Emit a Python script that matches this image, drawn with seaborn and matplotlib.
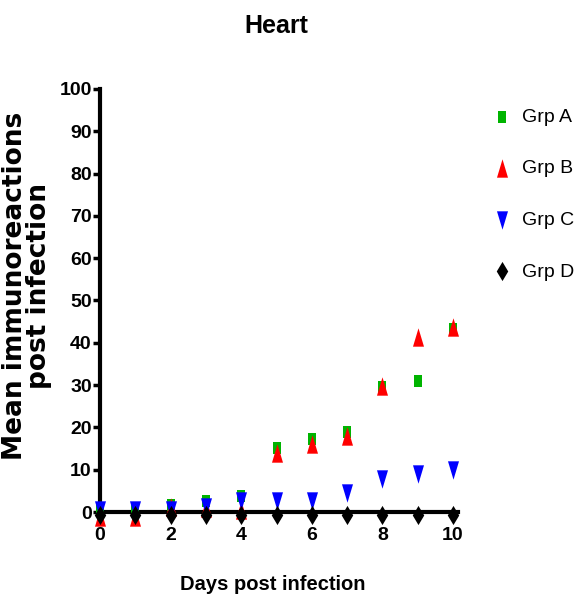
import numpy as np
import pandas as pd
import matplotlib
matplotlib.use('Agg')
import matplotlib.pyplot as plt
import seaborn as sns

# Values
days = [0, 1, 2, 3, 4, 5, 6, 7, 8, 9, 10]
grp_a = [0.3, 0.8, 1.7, 2.7, 3.8, 15.2, 17.2, 18.9, 29.5, 31.0, 43.3]
grp_b = [-1.1, -1.1, 1.3, 1.0, 0.5, 14.0, 16.0, 18.0, 29.8, 41.4, 43.8]
grp_c = [0.4, 0.4, 0.4, 1.3, 2.7, 2.5, 2.6, 4.5, 7.8, 9.0, 10.0]
grp_d = [-0.6, -0.6, -0.6, -0.6, -0.6, -0.6, -0.6, -0.6, -0.6, -0.6, -0.6]
groups = ['Grp A', 'Grp B', 'Grp C', 'Grp D']
yticks = list(range(0, 101, 10))
xticks = [0, 2, 4, 6, 8, 10]

df = pd.DataFrame({
    'day': days * 4,
    'value': grp_a + grp_b + grp_c + grp_d,
    'group': np.repeat(groups, len(days)),
})

sns.set_style('ticks')
font = ['Liberation Sans', 'DejaVu Sans']
plt.rcParams['font.family'] = font
plt.rcParams.update({'text.color': 'black', 'axes.labelcolor': 'black',
                     'xtick.color': 'black', 'ytick.color': 'black',
                     'axes.edgecolor': 'black'})

# tall markers (the original image is squeezed horizontally)
square = [(-0.65, -1), (0.65, -1), (0.65, 1), (-0.65, 1)]
tri_up = [(-0.6, -1), (0.6, -1), (0, 1)]
tri_down = [(-0.6, 1), (0.6, 1), (0, -1)]
diamond = [(0, 1), (0.6, 0), (0, -1), (-0.6, 0)]
styles = {
    'Grp A': (square, '#00b400', 85),
    'Grp B': (tri_up, '#ff0000', 175),
    'Grp C': (tri_down, '#0000ff', 175),
    'Grp D': (diamond, '#000000', 190),
}

fig = plt.figure(figsize=(5.75, 6.07), dpi=100)
ax = fig.add_axes([0.1555, 0.1356, 0.6508, 0.7178])

for g in groups:
    m, c, s = styles[g]
    sub = df[df['group'] == g]
    sns.scatterplot(data=sub, x='day', y='value', marker=m, color=c, s=s,
                    linewidth=0, label=g, ax=ax, clip_on=False, zorder=5)

ax.set_xlim(-0.3, 10.3)
ax.set_ylim(-3, 100)
ax.spines['right'].set_visible(False)
ax.spines['top'].set_visible(False)
ax.spines['left'].set_position(('data', 0))
ax.spines['bottom'].set_position(('data', 0))
ax.spines['left'].set_bounds(0, 100)
ax.spines['bottom'].set_bounds(0, 10.15)
for sp in ['left', 'bottom']:
    ax.spines[sp].set_linewidth(3)
    ax.spines[sp].set_capstyle('projecting')

ax.set_xticks(xticks)
ax.set_yticks(yticks)
ax.tick_params(axis='both', direction='out', length=5, width=2.5, pad=1,
               labelsize=14)
ax.tick_params(axis='x', pad=6)
for lab in ax.get_xticklabels() + ax.get_yticklabels():
    lab.set_fontweight('bold')
ax.set_xlabel('')
ax.set_ylabel('')

fig.text(276 / 575, 1 - 26 / 607, 'Heart', ha='center', va='center',
         fontsize=18, fontweight='bold')
fig.text(273 / 575, 1 - 584 / 607, 'Days post infection', ha='center',
         va='center', fontsize=14.5, fontweight='bold')
fig.text(27 / 575, 1 - 286 / 607, 'Mean immunoreactions\npost infection',
         rotation=90, ha='center', va='center', multialignment='center',
         fontsize=19, fontweight='bold', family=['DejaVu Sans'],
         linespacing=0.9)

h, l = ax.get_legend_handles_labels()
ax.legend(h, l, loc='upper left', bbox_to_anchor=(0.852, 0.822),
          bbox_transform=fig.transFigure, frameon=False, fontsize=14,
          handlelength=1.2, handletextpad=0.45, labelspacing=1.75,
          borderpad=0, borderaxespad=0)

fig.savefig('out.png', dpi=100)
